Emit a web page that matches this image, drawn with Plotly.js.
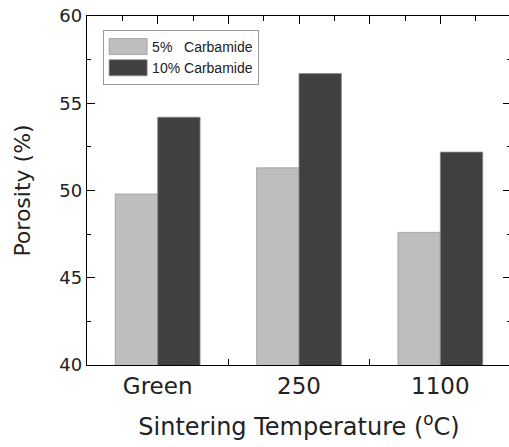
<!DOCTYPE html>
<html>
<head>
<meta charset="utf-8">
<script src="https://cdn.plot.ly/plotly-3.0.1.min.js"></script>
<style>
html,body{margin:0;padding:0;overflow:hidden;background:#fff;}
#chart{width:513px;height:447px;}
</style>
</head>
<body>
<div id="chart"></div>
<script>
// Data
const categories = ["Green", "250", "1100"];
const series5 = [49.8, 51.3, 47.6];
const series10 = [54.2, 56.7, 52.2];
const seriesNames = ["5%\u00a0\u00a0\u00a0Carbamide", "10% Carbamide"];

const mainFont = "DejaVu Sans, Lato, sans-serif";

const traces = [
  {
    type: "bar", x: categories, y: series5, name: seriesNames[0],
    marker: {color: "#bebebe", line: {color: "#9a9a9a", width: 0.8}}
  },
  {
    type: "bar", x: categories, y: series10, name: seriesNames[1],
    marker: {color: "#404040", line: {color: "#8a8a8a", width: 0.8}}
  },
  { type: "scatter", x: [], y: [], xaxis: "x2", showlegend: false, hoverinfo: "skip" }
];

const layout = {
  width: 513, height: 447,
  margin: {l: 87, r: 2, t: 16, b: 82},
  paper_bgcolor: "#fff", plot_bgcolor: "#fff",
  barmode: "group", bargap: 0.4, bargroupgap: 0,
  showlegend: true,
  legend: {
    x: 0.038, y: 0.96, xanchor: "left", yanchor: "top",
    bgcolor: "#fff", bordercolor: "#9a9a9a", borderwidth: 1,
    font: {family: "Liberation Sans, Arial, sans-serif", size: 14, color: "#222"},
    itemwidth: 38, tracegroupgap: 0
  },
  xaxis: {
    type: "category", range: [-0.5, 2.5],
    tickson: "boundaries", ticks: "inside", ticklen: 6, tickcolor: "#000", tickwidth: 1,
    showline: true, linecolor: "#000", linewidth: 1.3, mirror: false,
    showgrid: false, zeroline: false,
    tickfont: {family: mainFont, size: 23, color: "#222"},
    title: {text: "Sintering Temperature (<sup>o</sup>C)", font: {family: mainFont, size: 24, color: "#222"}, standoff: 20},
    automargin: false
  },
  xaxis2: {
    overlaying: "x", side: "top", type: "linear", range: [-0.5, 2.5],
    tick0: 0, dtick: 0.5, ticks: "inside", ticklen: 8, tickcolor: "#000", tickwidth: 1,
    minor: {dtick: 0.25, ticks: "inside", ticklen: 5, tickcolor: "#000"},
    showticklabels: false, showline: true, linecolor: "#000", linewidth: 1.3,
    showgrid: false, zeroline: false, automargin: false
  },
  yaxis: {
    range: [40, 60], tick0: 40, dtick: 5,
    ticks: "inside", ticklen: 8, tickcolor: "#000", tickwidth: 1,
    minor: {dtick: 2.5, ticks: "inside", ticklen: 4, tickcolor: "#000"},
    showline: true, linecolor: "#000", linewidth: 1.3, mirror: "ticks",
    showgrid: false, zeroline: false,
    tickfont: {family: mainFont, size: 18, color: "#222"},
    title: {text: "Porosity (%)", font: {family: mainFont, size: 22, color: "#222"}, standoff: 22},
    automargin: false
  },
  hovermode: false
};

Plotly.newPlot("chart", traces, layout, {staticPlot: true, displayModeBar: false}).then(function (gd) {
  // widen the legend swatches to match the reference's wide rectangles
  gd.querySelectorAll(".legend .legendpoints path").forEach(function (p) {
    p.setAttribute("d", "M19,8H-19V-8H19Z");
  });
});
</script>
</body>
</html>
